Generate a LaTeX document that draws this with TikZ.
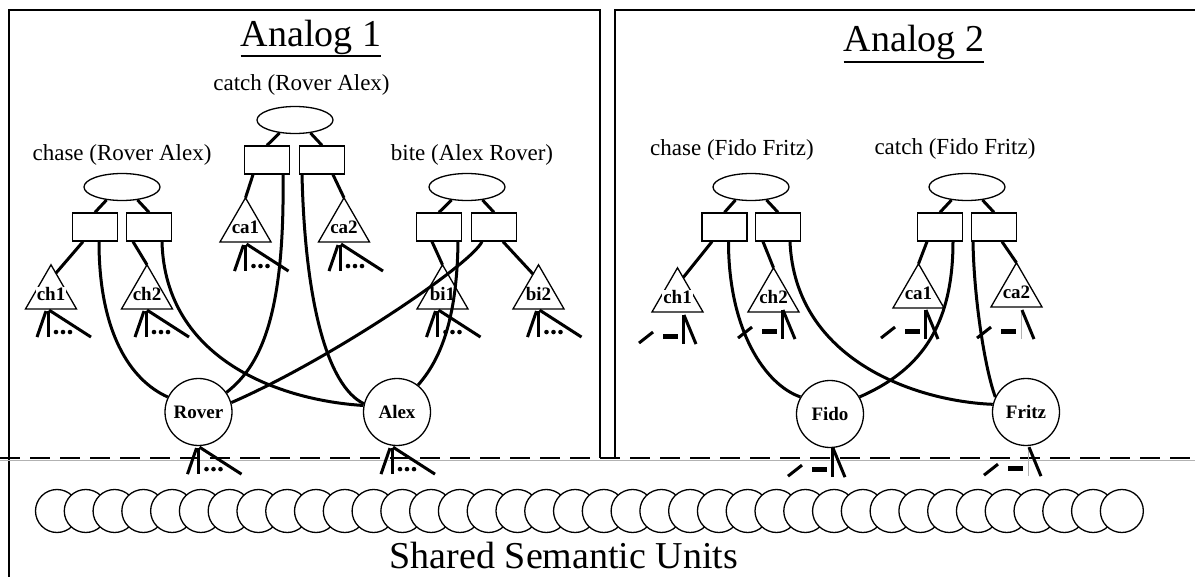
\documentclass[tikz,border=0pt]{standalone}
\usepackage{fontspec}
\setmainfont{Liberation Serif}
\usetikzlibrary{shapes.geometric}
\begin{document}
\begin{tikzpicture}[x=1pt,y=1pt,
  frame/.style={line width=1.5},
  prop/.style={draw, ellipse, line width=1.3, minimum width=76, minimum height=27, inner sep=0},
  rb/.style={draw, rectangle, line width=1.3, minimum width=45, minimum height=28, inner sep=0},
  tri/.style={draw, regular polygon, regular polygon sides=3, line width=1.3, minimum size=59, inner sep=0, outer sep=0},
  obj/.style={draw, circle, line width=1.3, minimum size=67, inner sep=0, font=\fontsize{19}{19}\selectfont\bfseries},
  sem/.style={draw, circle, fill=white, line width=1.3, minimum size=43, inner sep=0},
  tlab/.style={font=\fontsize{19}{19}\selectfont\bfseries, inner sep=0},
  plab/.style={anchor=base, inner sep=0, font=\fontsize{23}{23}\selectfont},
  title/.style={anchor=base, inner sep=0, font=\fontsize{38}{38}\selectfont},
  link/.style={line width=3},
  fan/.style={line width=3},
  faint/.style={draw=gray!60, line width=0.8},
]
\useasboundingbox (0,0) rectangle (1195,-577);

% frames
\draw[frame] (9,-577) -- (9,-10) -- (600,-10) -- (600,-458);
\draw[frame] (1195,-10) -- (615,-10) -- (615,-458);
\draw[gray!60, line width=1] (0,-460) -- (1195,-460);
\draw[line width=2.5, dash pattern=on 20pt off 10pt] (0,-458) -- (1195,-458);

% Analog 1
\node[title] (an1) at (311,-47) {Analog 1};
\draw[line width=1.5] ([yshift=-9]an1.base west) -- ([yshift=-9]an1.base east);
\node[plab] (lcatch) at (301.5,-90.5) {catch (Rover Alex)};
\node[plab] (lchase) at (122,-160.5) {chase (Rover Alex)};
\node[plab] (lbite) at (472,-160.5) {bite (Alex Rover)};

\node[prop] (catchA) at (295,-120) {};
\node[prop] (chaseA) at (122,-187) {};
\node[prop] (biteA) at (467,-187) {};

\node[rb] (catchA1) at (267,-160) {};
\node[rb] (catchA2) at (322,-160) {};
\node[rb] (chaseA1) at (95,-227) {};
\node[rb] (chaseA2) at (149,-227) {};
\node[rb] (biteA1) at (439,-227) {};
\node[rb] (biteA2) at (494,-227) {};

\node[tri, label={[tlab]center:ca1}] (ca1) at (245.5,-227.3) {};
\node[tri, label={[tlab]center:ca2}] (ca2) at (344,-227.3) {};
\node[tri, label={[tlab, fill=white, inner sep=1]center:ch1}] (ch1) at (51,-294.3) {};
\node[tri, label={[tlab]center:ch2}] (ch2) at (147,-294.3) {};
\node[tri, label={[tlab]center:bi1}] (bi1) at (442.5,-294.3) {};
\node[tri, label={[tlab]center:bi2}] (bi2) at (538.5,-294.3) {};

\node[obj] (rover) at (198.5,-412) {Rover};
\node[obj] (alex) at (397,-412) {Alex};

% chase (Rover Alex)
\draw[link] (chaseA.-140) -- (chaseA1.north);
\draw[link] (chaseA.-40) -- (chaseA2.north);
\draw[link] ([xshift=-12]chaseA1.south) -- (ch1.77);
\draw[link] ([xshift=-16]chaseA2.south) -- (ch2.north);
\draw[link] ([xshift=4]chaseA1.south) .. controls +(0,-90) and +(-38,17) .. (rover.154);
\draw[link] ([xshift=13]chaseA2.south) .. controls +(3,-119) and +(-82,5) .. (alex.169);

% catch (Rover Alex)
\draw[link] (catchA.-140) -- (catchA1.north);
\draw[link] (catchA.-40) -- (catchA2.north);
\draw[link] ([xshift=-14]catchA1.south) -- (ca1.north);
\draw[link] ([xshift=11]catchA2.south) -- (ca2.north);
\draw[link] ([xshift=16]catchA1.south) .. controls +(2,-146) and +(32,25) .. (rover.35);
\draw[link] ([xshift=-20]catchA2.south) .. controls +(3,-126) and +(-37,18) .. (alex.166);

% bite (Alex Rover)
\draw[link] (biteA.-140) -- (biteA1.north);
\draw[link] (biteA.-40) -- (biteA2.north);
\draw[link] ([xshift=-7]biteA1.south) -- (bi1.north);
\draw[link] ([xshift=9]biteA2.south) -- (bi2.105);
\draw[link] ([xshift=19]biteA1.south) .. controls +(-1,-79) and +(22,25) .. (alex.52);
\draw[link] (rover.16) .. controls +(97,42) and +(-12,-24) .. ([xshift=-12]biteA2.south);

% Analog 2
\node[title] (an2) at (914,-52) {Analog 2};
\draw[line width=1.5] ([yshift=-10]an2.base west) -- ([yshift=-10]an2.base east);
\node[plab] (rchase) at (732,-155.5) {chase (Fido Fritz)};
\node[plab] (rcatch) at (955,-155) {catch (Fido Fritz)};

\node[prop] (chaseB) at (751,-187) {};
\node[prop] (catchB) at (967,-187) {};

\node[rb] (chaseB1) at (724.5,-227) {};
\node[rb] (chaseB2) at (778,-227) {};
\node[rb] (catchB1) at (940,-227) {};
\node[rb] (catchB2) at (994,-227) {};

\node[tri, label={[tlab, fill=white, inner sep=1]center:ch1}] (fch1) at (677.5,-297.3) {};
\node[tri, label={[tlab]center:ch2}] (fch2) at (773.5,-297.3) {};
\node[tri, label={[tlab]center:ca1}] (fca1) at (918.5,-293.3) {};
\node[tri, label={[tlab]center:ca2}] (fca2) at (1016.5,-292.3) {};

\node[obj] (fido) at (830,-414) {Fido};
\node[obj] (fritz) at (1026,-412) {Fritz};

% chase (Fido Fritz)
\draw[link] (chaseB.-140) -- (chaseB1.north);
\draw[link] (chaseB.-40) -- (chaseB2.north);
\draw[link] ([xshift=-12.5]chaseB1.south) -- (fch1.74);
\draw[link] ([xshift=-15]chaseB2.south) -- (fch2.north);
\draw[link] ([xshift=4]chaseB1.south) .. controls +(0,-89) and +(-35,12) .. (fido.150);
\draw[link] ([xshift=12]chaseB2.south) .. controls +(5,-119) and +(-76,3) .. (fritz.167);

% catch (Fido Fritz)
\draw[link] (catchB.-140) -- (catchB1.north);
\draw[link] (catchB.-40) -- (catchB2.north);
\draw[link] ([xshift=-13]catchB1.south) -- (fca1.north);
\draw[link] ([xshift=8]catchB2.south) -- (fca2.north);
\draw[link] ([xshift=13]catchB1.south) .. controls +(0,-89) and +(57,25) .. (fido.30);
\draw[link] ([xshift=-21]catchB2.south) .. controls +(1,-59) and +(-10,27) .. (fritz.154);

% semantic fans, analog 1
\foreach \n/\dx/\dy in {ch1/-3/-2, ch2/-1/-2, ca1/0/-3, ca2/-4/-3, bi1/-5/-2, bi2/0/-2, rover/0/-2, alex/-5/-2} {
  \path (\n.south) ++(\dx,\dy) coordinate (p);
  \draw[fan] (p) ++(-2,0) -- ++(-9,-26);
  \draw[fan] (p) -- ++(0,-26);
  \draw[fan] (p) ++(1,1) -- ++(42,-27);
  \fill (p) ++(8,-21) circle (2.3) ++(7,0) circle (2.3) ++(7,0) circle (2.3);
}

% semantic fans, analog 2
\foreach \n/\dx/\dy/\s in {fch1/5.5/-3/fan, fch2/8.5/2/fan, fca1/6.5/-2/fan, fca2/4.5/-3/faint, fido/2/0/fan, fritz/2/-1/faint} {
  \path (\n.south) ++(\dx,\dy) coordinate (q);
  \draw[\s] (q) -- ++(0,-29);
  \draw[fan] (q) ++(1,0) -- ++(12,-29);
  \draw[fan] (q) ++(-44,-28) -- ++(14,11);
  \draw[line width=5] (q) ++(-20,-21) -- ++(15,0);
}

% shared semantic units
\foreach \i in {0,...,37}
  \node[sem] (s\i) at (57+28.78*\i,-511) {};
\node[title] (sem) at (564,-568) {Shared Semantic Units};
\end{tikzpicture}
\end{document}
